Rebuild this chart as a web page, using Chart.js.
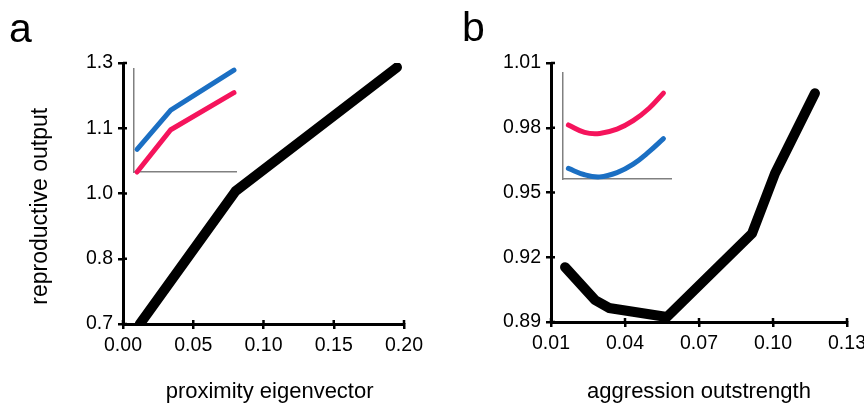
<!DOCTYPE html>
<html>
<head>
<meta charset="utf-8">
<script src="https://cdn.jsdelivr.net/npm/chart.js@4.4.0/dist/chart.umd.min.js"></script>
<style>
  body { margin: 0; background: #fff; }
  #wrap { position: relative; width: 864px; height: 405px; overflow: hidden; font-family: "Liberation Sans", Arial, sans-serif; }
  canvas { position: absolute; }
  .tag { position: absolute; font-size: 41px; line-height: 1; color: #000; }
</style>
</head>
<body>
<div id="wrap">
  <canvas id="chartA" width="432" height="405" style="left:0;top:0"></canvas>
  <canvas id="chartB" width="432" height="405" style="left:432px;top:0"></canvas>
  <canvas id="insetA" width="122" height="123" style="left:124px;top:59px"></canvas>
  <canvas id="insetB" width="128" height="126" style="left:553px;top:63px"></canvas>
  <div class="tag" style="left:9px;top:8px">a</div>
  <div class="tag" style="left:462px;top:7px">b</div>
</div>
<script>
// panel a: proximity eigenvector
const xA = [0.012, 0.08, 0.195];
const yA = [0.70, 1.005, 1.29];
const xTicksA = ['0.00', '0.05', '0.10', '0.15', '0.20'];
const yTicksA = ['0.7', '0.8', '1.0', '1.1', '1.3'];

// panel b: aggression outstrength
const xB = [0.0157, 0.0278, 0.0335, 0.057, 0.0915, 0.1008, 0.117];
const yB = [0.9154, 0.9002, 0.8965, 0.8923, 0.931, 0.9588, 0.996];
const xTicksB = ['0.01', '0.04', '0.07', '0.10', '0.13'];
const yTicksB = ['0.89', '0.92', '0.95', '0.98', '1.01'];

// insets (no scale shown, normalised 0..1)
const insetAX = [0.03, 0.36, 0.98];
const insetABlue = [0.22, 0.60, 0.99];
const insetAPink = [0.0, 0.41, 0.77];
const insetBX = [0.05, 0.2, 0.34, 0.5, 0.65, 0.8, 0.93];
const insetBPink = [0.51, 0.44, 0.43, 0.47, 0.55, 0.67, 0.81];
const insetBBlue = [0.10, 0.04, 0.02, 0.06, 0.14, 0.26, 0.38];

const BLUE = '#1b6fc3';
const PINK = '#f5145c';

Chart.defaults.font.family = '"Liberation Sans", Arial, sans-serif';
Chart.defaults.color = '#000';

const pts = (xs, ys) => xs.map((x, i) => ({ x: x, y: ys[i] }));

// short tick stubs on the inner side of the axes
const innerTicks = {
  id: 'innerTicks',
  afterDraw(chart) {
    const { ctx, scales: { x, y } } = chart;
    ctx.save();
    ctx.strokeStyle = '#000';
    ctx.lineWidth = 2.5;
    ctx.beginPath();
    x.ticks.forEach((t, i) => {
      const px = x.getPixelForTick(i);
      ctx.moveTo(px, x.top);
      ctx.lineTo(px, x.top - 4);
    });
    y.ticks.forEach((t, i) => {
      const py = y.getPixelForTick(i);
      ctx.moveTo(y.right, py);
      ctx.lineTo(y.right + 4, py);
    });
    ctx.stroke();
    ctx.restore();
  }
};

function mainChart(id, data, o) {
  return new Chart(document.getElementById(id), {
    type: 'line',
    data: {
      datasets: [{
        data: data,
        borderColor: '#000',
        borderWidth: 10,
        borderCapStyle: 'round',
        borderJoinStyle: 'round',
        pointRadius: 0,
        tension: 0
      }]
    },
    options: {
      responsive: false,
      animation: false,
      layout: { padding: { left: 0, right: o.padRight, top: 63, bottom: 0 } },
      plugins: { legend: { display: false }, tooltip: { enabled: false } },
      scales: {
        x: {
          type: 'linear', min: o.xMin, max: o.xMax,
          ticks: { stepSize: o.xStep, padding: 5, autoSkip: false, maxRotation: 0, font: { size: 19.5 },
                   callback: (v, i) => o.xTicks[i] },
          grid: { drawOnChartArea: false, tickLength: 5, color: '#000', lineWidth: 2.5 },
          border: { color: '#000', width: 3 },
          title: { display: true, text: o.xTitle, font: { size: 22 }, padding: 0 },
          afterFit: s => { s.height = 405 - o.bottom; s.paddingRight = 0; }
        },
        y: {
          type: 'linear', min: o.yMin, max: o.yMax,
          ticks: { stepSize: o.yStep, padding: 5, autoSkip: false, font: { size: 19.5 },
                   callback: (v, i) => o.yTicks[i] },
          grid: { drawOnChartArea: false, tickLength: 5, color: '#000', lineWidth: 2.5 },
          border: { color: '#000', width: 3 },
          title: { display: !!o.yTitle, text: o.yTitle, font: { size: 23 }, padding: { top: 27, bottom: 0 } },
          afterFit: s => { s.width = o.left; }
        }
      }
    },
    plugins: [innerTicks]
  });
}

function insetChart(id, xs, pink, blue, tension) {
  const ds = (ys, c) => ({
    data: pts(xs, ys), borderColor: c, borderWidth: 5, borderCapStyle: 'round',
    pointRadius: 0, tension: tension, clip: false
  });
  const axis = {
    type: 'linear', min: 0, max: 1,
    ticks: { display: false },
    grid: { display: false },
    border: { color: '#808080', width: 1.5 },
    afterFit: s => { s.width = 0; s.height = 0; }
  };
  return new Chart(document.getElementById(id), {
    type: 'line',
    data: { datasets: [ds(blue, BLUE), ds(pink, PINK)] },
    options: {
      responsive: false,
      animation: false,
      layout: { padding: 10 },
      plugins: { legend: { display: false }, tooltip: { enabled: false } },
      scales: { x: axis, y: Object.assign({}, axis) }
    }
  });
}

mainChart('chartA', pts(xA, yA), {
  xMin: 0, xMax: 0.2, xStep: 0.05, xTicks: xTicksA,
  yMin: 0.7, yMax: 1.3, yStep: 0.15, yTicks: yTicksA,
  xTitle: '  proximity eigenvector', yTitle: 'reproductive output    ',
  left: 123, bottom: 324, padRight: 28
});

mainChart('chartB', pts(xB, yB), {
  xMin: 0.01, xMax: 0.13, xStep: 0.03, xTicks: xTicksB,
  yMin: 0.89, yMax: 1.01, yStep: 0.03, yTicks: yTicksB,
  xTitle: 'aggression outstrength', yTitle: '',
  left: 119, bottom: 322, padRight: 17
});

insetChart('insetA', insetAX, insetAPink, insetABlue, 0);
insetChart('insetB', insetBX, insetBPink, insetBBlue, 0.4);
</script>
</body>
</html>
